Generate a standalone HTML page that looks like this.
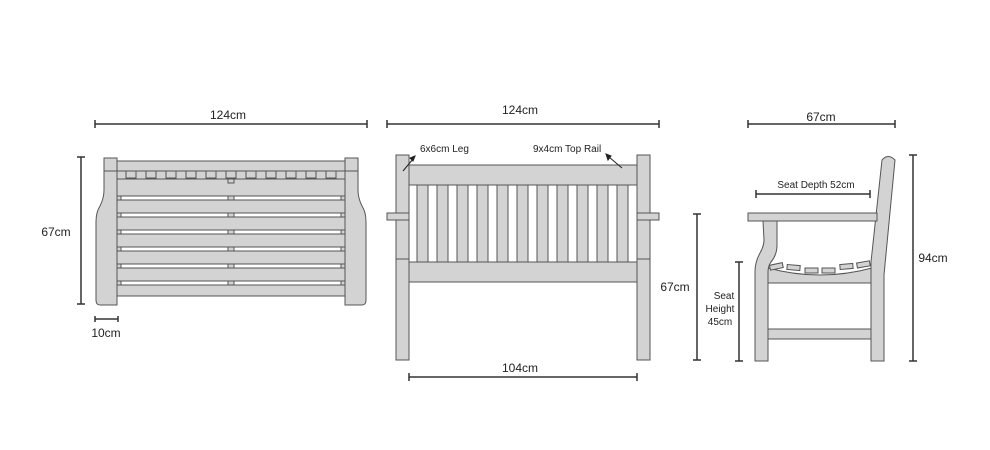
<!DOCTYPE html>
<html><head><style>
html,body{margin:0;padding:0;background:#fff;width:990px;height:450px;overflow:hidden}
svg{display:block}
text{font-family:"Liberation Sans",Arial,sans-serif;fill:#222}
</style></head><body>
<svg width="990" height="450" viewBox="0 0 990 450" xmlns="http://www.w3.org/2000/svg">
<g stroke="#333" stroke-width="1.5" fill="none">
<line x1="95" y1="124" x2="367" y2="124"/><line x1="95" y1="120" x2="95" y2="128"/><line x1="367" y1="120" x2="367" y2="128"/>
<line x1="81" y1="157" x2="81" y2="304"/><line x1="77" y1="157" x2="85" y2="157"/><line x1="77" y1="304" x2="85" y2="304"/>
<line x1="95" y1="319" x2="118" y2="319"/><line x1="95" y1="316" x2="95" y2="322"/><line x1="118" y1="316" x2="118" y2="322"/>
<line x1="387" y1="124" x2="659" y2="124"/><line x1="387" y1="120" x2="387" y2="128"/><line x1="659" y1="120" x2="659" y2="128"/>
<line x1="409" y1="377" x2="637" y2="377"/><line x1="409" y1="373" x2="409" y2="381"/><line x1="637" y1="373" x2="637" y2="381"/>
<line x1="697" y1="214" x2="697" y2="360"/><line x1="693" y1="214" x2="701" y2="214"/><line x1="693" y1="360" x2="701" y2="360"/>
<line x1="748" y1="124" x2="895" y2="124"/><line x1="748" y1="120" x2="748" y2="128"/><line x1="895" y1="120" x2="895" y2="128"/>
<line x1="756" y1="194" x2="870" y2="194"/><line x1="756" y1="190" x2="756" y2="198"/><line x1="870" y1="190" x2="870" y2="198"/>
<line x1="739" y1="262" x2="739" y2="361"/><line x1="735" y1="262" x2="743" y2="262"/><line x1="735" y1="361" x2="743" y2="361"/>
<line x1="913" y1="155" x2="913" y2="361"/><line x1="909" y1="155" x2="917" y2="155"/><line x1="909" y1="361" x2="917" y2="361"/>
</g>
<g stroke="#555" stroke-width="1" fill="#d3d3d3">
<!-- LEFT VIEW -->
<rect x="117" y="161" width="228" height="10"/>
<rect x="104" y="171" width="254" height="8"/>
<g>
<rect x="126" y="171" width="10" height="7"/><rect x="146" y="171" width="10" height="7"/><rect x="166" y="171" width="10" height="7"/><rect x="186" y="171" width="10" height="7"/><rect x="206" y="171" width="10" height="7"/><rect x="226" y="171" width="10" height="7"/><rect x="246" y="171" width="10" height="7"/><rect x="266" y="171" width="10" height="7"/><rect x="286" y="171" width="10" height="7"/><rect x="306" y="171" width="10" height="7"/><rect x="326" y="171" width="10" height="7"/>
</g>
<rect x="117" y="179" width="228" height="17"/>
<rect x="117" y="200" width="228" height="13"/>
<rect x="117" y="217" width="228" height="13"/>
<rect x="117" y="234" width="228" height="13"/>
<rect x="117" y="251" width="228" height="13"/>
<rect x="117" y="268" width="228" height="13"/>
<rect x="117" y="285" width="228" height="11"/>
<rect x="117" y="196" width="4" height="4"/><rect x="117" y="213" width="4" height="4"/><rect x="117" y="230" width="4" height="4"/><rect x="117" y="247" width="4" height="4"/><rect x="117" y="264" width="4" height="4"/><rect x="117" y="281" width="4" height="4"/>
<rect x="341" y="196" width="4" height="4"/><rect x="341" y="213" width="4" height="4"/><rect x="341" y="230" width="4" height="4"/><rect x="341" y="247" width="4" height="4"/><rect x="341" y="264" width="4" height="4"/><rect x="341" y="281" width="4" height="4"/>
<rect x="228" y="179" width="6" height="4"/><rect x="228" y="196" width="6" height="4"/><rect x="228" y="213" width="6" height="4"/><rect x="228" y="230" width="6" height="4"/><rect x="228" y="247" width="6" height="4"/><rect x="228" y="264" width="6" height="4"/><rect x="228" y="281" width="6" height="4"/>
<path d="M104 158 H117 V305 H100 Q96 305 96 300 V222 Q96 212 100 206 Q104 198 104 190 Z"/>
<line x1="104" y1="171" x2="117" y2="171"/>
<path d="M358 158 H345 V305 H362 Q366 305 366 300 V222 Q366 212 362 206 Q358 198 358 190 Z"/>
<line x1="345" y1="171" x2="358" y2="171"/>
<!-- MIDDLE VIEW -->
<rect x="396" y="155" width="13" height="205"/>
<rect x="637" y="155" width="13" height="205"/>
<line x1="396" y1="259" x2="409" y2="259"/><line x1="637" y1="259" x2="650" y2="259"/>
<rect x="387" y="213" width="22" height="7"/>
<rect x="637" y="213" width="22" height="7"/>
<rect x="417" y="185" width="11" height="77"/><rect x="437" y="185" width="11" height="77"/><rect x="457" y="185" width="11" height="77"/><rect x="477" y="185" width="11" height="77"/><rect x="497" y="185" width="11" height="77"/><rect x="517" y="185" width="11" height="77"/><rect x="537" y="185" width="11" height="77"/><rect x="557" y="185" width="11" height="77"/><rect x="577" y="185" width="11" height="77"/><rect x="597" y="185" width="11" height="77"/><rect x="617" y="185" width="11" height="77"/>
<rect x="409" y="165" width="228" height="20"/>
<rect x="409" y="262" width="228" height="20"/>
<!-- RIGHT VIEW -->
<rect x="768" y="329" width="104" height="10"/>
<path d="M768 268 Q820 282 872 268 V283 H768 Z"/>
<path d="M882 160 Q888 153 895 160 L884 275 V361 H871 V262 Z"/>
<path d="M763 221 H777 V245 Q777 255 771 262 Q768 266 768 272 V361 H755 V272 Q755 262 760 253 Q764 246 764 240 Z"/>
<rect x="748" y="213" width="129" height="8"/>
<g transform="rotate(-12 776 267)"><rect x="770" y="264" width="13" height="5"/></g>
<g transform="rotate(5 793 268)"><rect x="787" y="265" width="13" height="5"/></g>
<rect x="805" y="268" width="13" height="5"/>
<rect x="822" y="268" width="13" height="5"/>
<g transform="rotate(-5 846 267)"><rect x="840" y="264" width="13" height="5"/></g>
<g transform="rotate(-10 863 265)"><rect x="857" y="262" width="13" height="5"/></g>
</g>
<g stroke="#222" stroke-width="1" fill="#222">
<line x1="403" y1="171" x2="413" y2="159"/><path d="M415 156 L410 158 L413 161 Z"/>
<line x1="622" y1="168" x2="609" y2="157"/><path d="M606 154 L608 160 L611 156 Z"/>
</g>
<g font-size="12">
<text x="228" y="119" text-anchor="middle">124cm</text>
<text x="56" y="236" text-anchor="middle">67cm</text>
<text x="106" y="337" text-anchor="middle">10cm</text>
<text x="520" y="114" text-anchor="middle">124cm</text>
<text x="520" y="372" text-anchor="middle">104cm</text>
<text x="675" y="291" text-anchor="middle">67cm</text>
<text x="821" y="121" text-anchor="middle">67cm</text>
<text x="933" y="262" text-anchor="middle">94cm</text>
</g>
<g font-size="10">
<text x="420" y="152">6x6cm Leg</text>
<text x="533" y="152">9x4cm Top Rail</text>
<text x="816" y="188" text-anchor="middle">Seat Depth 52cm</text>
<text x="724" y="299" text-anchor="middle">Seat</text>
<text x="720" y="312" text-anchor="middle">Height</text>
<text x="720" y="325" text-anchor="middle">45cm</text>
</g>
</svg>
</body></html>
